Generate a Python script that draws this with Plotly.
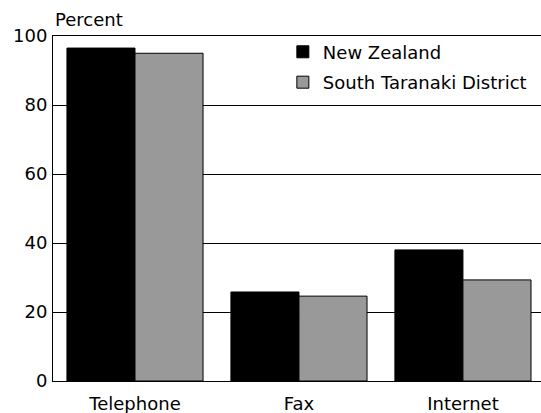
import plotly.graph_objects as go

categories = ["Telephone", "Fax", "Internet"]
series_names = ["New Zealand", "South Taranaki District"]
nz_values = [96.5, 25.8, 38.0]
st_values = [95.0, 24.6, 29.3]
series_colors = ["#000000", "#999999"]
y_ticks = [0, 20, 40, 60, 80, 100]

FONT = "DejaVu Sans, Arial, sans-serif"

fig = go.Figure()
for name, vals, col in zip(series_names, [nz_values, st_values], series_colors):
    fig.add_trace(go.Bar(
        x=categories, y=vals, name=name, legendgroup=name,
        marker=dict(color=col, line=dict(color="#000000", width=1)),
    ))

fig.update_layout(
    width=541, height=413,
    margin=dict(l=53, r=0, t=36, b=32),
    paper_bgcolor="white", plot_bgcolor="white",
    barmode="group", bargap=0.17, bargroupgap=0,
    font=dict(family=FONT, size=18, color="black"),
    showlegend=True,
    legend=dict(x=0.471, xanchor="left", y=1.007, yanchor="top",
                bgcolor="rgba(0,0,0,0)", borderwidth=0,
                font=dict(size=18), tracegroupgap=4,
                itemclick=False),
    xaxis=dict(range=[-0.5, 2.476], showgrid=False, showline=True,
               mirror=True, linecolor="black", linewidth=1, ticks="",
               ticklabelstandoff=6, fixedrange=True),
    yaxis=dict(range=[0, 100], tickvals=y_ticks, showgrid=True,
               gridcolor="black", gridwidth=1, showline=True,
               linecolor="black", linewidth=1, zeroline=False,
               ticks="", ticklabelstandoff=1, fixedrange=True),
    annotations=[dict(text="Percent", xref="paper", yref="paper",
                      x=0, y=1, xanchor="left", yanchor="bottom",
                      showarrow=False, font=dict(size=18), xshift=0, yshift=4)],
)

fig.write_html("out.html", config={"displayModeBar": False},
               post_script="document.body.style.margin='0';")
